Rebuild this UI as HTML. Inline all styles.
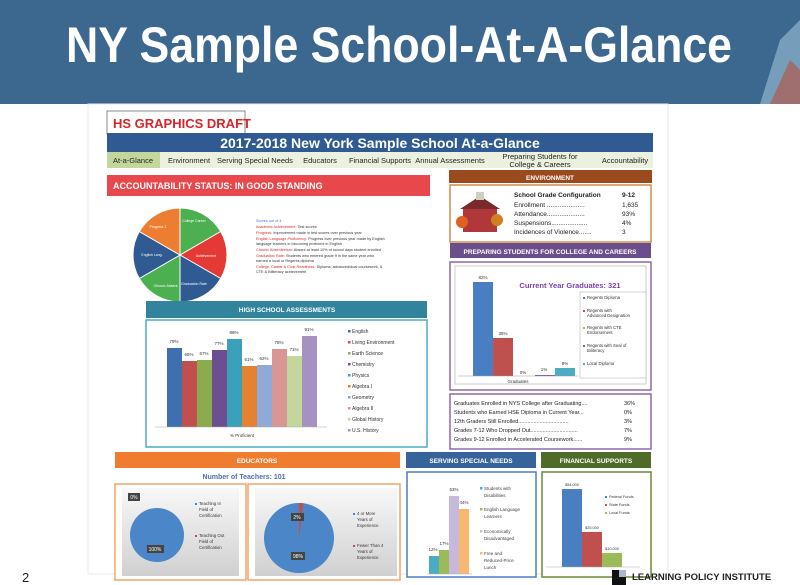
<!DOCTYPE html>
<html><head><meta charset="utf-8"><style>
html,body{margin:0;padding:0;background:#fff;overflow:hidden}
svg{display:block;font-family:"Liberation Sans",sans-serif}
</style></head><body>
<svg width="800" height="585" viewBox="0 0 800 585" xmlns="http://www.w3.org/2000/svg">
<rect x="0" y="0" width="800" height="104" fill="#3c6890"/>
<polygon points="780,40 800,20 800,104 760,104" fill="#8fb3cc" opacity="0.7"/>
<polygon points="770,104 790,60 800,70 800,104" fill="#b05a50" opacity="0.7"/>
<text x="66" y="62" font-size="50" font-weight="bold" fill="#fff" textLength="666" lengthAdjust="spacingAndGlyphs">NY Sample School-At-A-Glance</text>
<rect x="0" y="104" width="800" height="481" fill="#fff"/>
<rect x="88" y="104" width="580" height="470" fill="#fff" stroke="#e8e8e8"/>

<rect x="107" y="111" width="138" height="23" fill="#fff" stroke="#888"/>
<text x="113" y="128" font-size="13" font-weight="bold" fill="#d9252a">HS GRAPHICS DRAFT</text>
<rect x="107" y="133" width="546" height="19" fill="#2f5b92"/>
<text x="380" y="148" font-size="14" font-weight="bold" fill="#fff" text-anchor="middle">2017-2018 New York Sample School At-a-Glance</text>
<rect x="107" y="152" width="546" height="16" fill="#ebf1de"/>
<rect x="107" y="152" width="53" height="16" fill="#c4d79b"/>
<g font-size="7.5" fill="#222" text-anchor="middle">
<text x="133" y="163">At-a-Glance</text><text x="189" y="163">Environment</text><text x="255" y="163">Serving Special Needs</text>
<text x="320" y="163">Educators</text><text x="380" y="163">Financial Supports</text><text x="450" y="163">Annual Assessments</text>
<text x="540" y="159">Preparing Students for</text><text x="540" y="167">College &amp; Careers</text><text x="625" y="163">Accountability</text></g>

<rect x="107" y="175" width="323" height="21" fill="#e8474c"/>
<text x="113" y="189" font-size="9" font-weight="bold" fill="#fff">ACCOUNTABILITY STATUS: IN GOOD STANDING</text>
<g stroke="#fff" stroke-width="1">
<path d="M180,255 L180,208 A47,47 0 0 1 220.7,231.5 Z" fill="#4caf50"/>
<path d="M180,255 L220.7,231.5 A47,47 0 0 1 220.7,278.5 Z" fill="#e53935"/>
<path d="M180,255 L220.7,278.5 A47,47 0 0 1 180,302 Z" fill="#2f5b92"/>
<path d="M180,255 L180,302 A47,47 0 0 1 139.3,278.5 Z" fill="#4caf50"/>
<path d="M180,255 L139.3,278.5 A47,47 0 0 1 139.3,231.5 Z" fill="#2f5b92"/>
<path d="M180,255 L139.3,231.5 A47,47 0 0 1 180,208 Z" fill="#ed7d31"/></g>
<g font-size="3.5" fill="#fff" text-anchor="middle"><text x="158" y="228">Progress 2</text><text x="194" y="222">College Career</text><text x="206" y="257">Achievement</text><text x="194" y="285">Graduation Rate</text><text x="166" y="287">Chronic Absent.</text><text x="152" y="256">English Lang.</text></g>
<g font-size="3.8"><text x="256" y="222" fill="#2f7fcf">Scores out of 4</text>
<text x="256" y="228" fill="#d9252a">Academic Achievement: <tspan fill="#333">Test scores</tspan></text>
<text x="256" y="234" fill="#d9252a">Progress: <tspan fill="#333">Improvement made in test scores over previous year</tspan></text>
<text x="256" y="240" fill="#d9252a">English Language Proficiency: <tspan fill="#333">Progress over previous year made by English</tspan></text>
<text x="256" y="245" fill="#333">language learners in becoming proficient in English</text>
<text x="256" y="251" fill="#d9252a">Chronic Absenteeism: <tspan fill="#333">Absent at least 10% of school days student enrolled</tspan></text>
<text x="256" y="257" fill="#d9252a">Graduation Rate: <tspan fill="#333">Students who entered grade 9 in the same year who</tspan></text>
<text x="256" y="262" fill="#333">earned a local or Regents diploma</text>
<text x="256" y="268" fill="#d9252a">College, Career &amp; Civic Readiness: <tspan fill="#333">Diploma, advanced/dual coursework, &amp;</tspan></text>
<text x="256" y="273" fill="#333">CTE &amp; Biliteracy achievement</text></g>

<rect x="449" y="170" width="203" height="13" fill="#9a4a1c"/>
<text x="550" y="180" font-size="6.5" font-weight="bold" fill="#fff" text-anchor="middle">ENVIRONMENT</text>
<rect x="450" y="185" width="201" height="57" fill="#fff" stroke="#d08b4a" stroke-width="1.5"/>
<rect x="463" y="208" width="34" height="24" fill="#b0373a"/><polygon points="460,209 480,196 500,209" fill="#7a2a2a"/>
<rect x="476" y="192" width="8" height="8" fill="#d0d0c0"/><circle cx="462" cy="222" r="6" fill="#e06020"/><circle cx="497" cy="220" r="6" fill="#d08020"/>
<g font-size="6.5" fill="#222"><text x="514" y="197" font-weight="bold">School Grade Configuration</text><text x="622" y="197" font-weight="bold">9-12</text>
<text x="514" y="207">Enrollment .....................</text><text x="622" y="207">1,635</text>
<text x="514" y="216">Attendance.....................</text><text x="622" y="216">93%</text>
<text x="514" y="225">Suspensions....................</text><text x="622" y="225">4%</text>
<text x="514" y="234">Incidences of Violence.......</text><text x="622" y="234">3</text></g>

<rect x="450" y="243" width="201" height="15" fill="#6b4e8c"/>
<text x="550" y="254" font-size="6.5" font-weight="bold" fill="#fff" text-anchor="middle">PREPARING STUDENTS FOR COLLEGE AND CAREERS</text>
<rect x="450" y="262" width="201" height="128" fill="#fff" stroke="#8a6aaa" stroke-width="1.5"/>
<rect x="455" y="266" width="191" height="118" fill="#fff" stroke="#ccc"/>
<rect x="580" y="292" width="66" height="86" fill="#fff" stroke="#aaa" stroke-width="0.5"/>
<text x="570" y="288" font-size="7.5" font-weight="bold" fill="#7a3fa8" text-anchor="middle">Current Year Graduates: 321</text>
<rect x="473" y="282" width="20" height="94" fill="#4a7ec2"/><rect x="493" y="338" width="20" height="38" fill="#c0504d"/>
<rect x="535" y="375" width="20" height="1" fill="#7a5aa0"/><rect x="555" y="368" width="20" height="8" fill="#4bacc6"/>
<line x1="458" y1="376" x2="578" y2="376" stroke="#999" stroke-width="0.5"/>
<g font-size="4.5" fill="#333" text-anchor="middle"><text x="483" y="279">82%</text><text x="503" y="335">35%</text><text x="523" y="374">0%</text><text x="544" y="371">1%</text><text x="565" y="365">8%</text><text x="518" y="383">Graduates</text></g>
<g font-size="4.3" fill="#333"><rect x="583" y="297" width="2" height="2" fill="#4a7ec2"/><text x="587" y="299">Regents Diploma</text>
<rect x="583" y="310" width="2" height="2" fill="#c0504d"/><text x="587" y="312">Regents with</text><text x="587" y="317">Advanced Designation</text>
<rect x="583" y="327" width="2" height="2" fill="#9bbb59"/><text x="587" y="329">Regents with CTE</text><text x="587" y="334">Endorsement</text>
<rect x="583" y="345" width="2" height="2" fill="#8064a2"/><text x="587" y="347">Regents with Seal of</text><text x="587" y="352">Biliteracy</text>
<rect x="583" y="363" width="2" height="2" fill="#4bacc6"/><text x="587" y="365">Local Diploma</text></g>
<rect x="450" y="394" width="201" height="55" fill="#fff" stroke="#8a6aaa" stroke-width="1.5"/>
<g font-size="5.5" fill="#222"><text x="454" y="405">Graduates Enrolled in NYS College after Graduating....</text><text x="624" y="405">36%</text>
<text x="454" y="414">Students who Earned HSE Diploma in Current Year...</text><text x="624" y="414">0%</text>
<text x="454" y="423">12th Graders Still Enrolled.................................</text><text x="624" y="423">3%</text>
<text x="454" y="432">Grades 7-12 Who Dropped Out...............................</text><text x="624" y="432">7%</text>
<text x="454" y="441">Grades 9-12 Enrolled in Accelerated Coursework......</text><text x="624" y="441">9%</text></g>

<rect x="146" y="301" width="281" height="17" fill="#31849b"/>
<text x="287" y="312" font-size="6.5" font-weight="bold" fill="#fff" text-anchor="middle">HIGH SCHOOL ASSESSMENTS</text>
<rect x="146" y="320" width="281" height="127" fill="#fff" stroke="#4bacc6" stroke-width="1.5"/>
<g>
<rect x="167" y="348" width="15" height="79" fill="#3e6fb0"/><rect x="182" y="361" width="15" height="66" fill="#c0504d"/>
<rect x="197" y="360" width="15" height="67" fill="#8bab4c"/><rect x="212" y="350" width="15" height="77" fill="#6d4e91"/>
<rect x="227" y="339" width="15" height="88" fill="#3ba0b9"/><rect x="242" y="366" width="15" height="61" fill="#e58133"/>
<rect x="257" y="365" width="15" height="62" fill="#8fa9d8"/><rect x="272" y="349" width="15" height="78" fill="#da9694"/>
<rect x="287" y="356" width="15" height="71" fill="#c3d69b"/><rect x="302" y="336" width="15" height="91" fill="#a692c0"/></g>
<line x1="155" y1="427" x2="327" y2="427" stroke="#aaa" stroke-width="0.6"/>
<g font-size="4.5" fill="#333" text-anchor="middle"><text x="174" y="343">79%</text><text x="189" y="356">66%</text><text x="204" y="355">67%</text><text x="219" y="345">77%</text><text x="234" y="334">88%</text><text x="249" y="361">61%</text><text x="264" y="360">62%</text><text x="279" y="344">78%</text><text x="294" y="351">71%</text><text x="309" y="331">91%</text><text x="242" y="437">% Proficient</text></g>
<g font-size="5" fill="#333">
<rect x="348" y="330" width="2.5" height="2.5" fill="#3e6fb0"/><text x="352" y="333">English</text>
<rect x="348" y="341" width="2.5" height="2.5" fill="#c0504d"/><text x="352" y="344">Living Environment</text>
<rect x="348" y="352" width="2.5" height="2.5" fill="#8bab4c"/><text x="352" y="355">Earth Science</text>
<rect x="348" y="363" width="2.5" height="2.5" fill="#6d4e91"/><text x="352" y="366">Chemistry</text>
<rect x="348" y="374" width="2.5" height="2.5" fill="#3ba0b9"/><text x="352" y="377">Physics</text>
<rect x="348" y="385" width="2.5" height="2.5" fill="#e58133"/><text x="352" y="388">Algebra I</text>
<rect x="348" y="396" width="2.5" height="2.5" fill="#8fa9d8"/><text x="352" y="399">Geometry</text>
<rect x="348" y="407" width="2.5" height="2.5" fill="#da9694"/><text x="352" y="410">Algebra II</text>
<rect x="348" y="418" width="2.5" height="2.5" fill="#c3d69b"/><text x="352" y="421">Global History</text>
<rect x="348" y="429" width="2.5" height="2.5" fill="#a692c0"/><text x="352" y="432">U.S. History</text></g>

<rect x="115" y="452" width="285" height="16" fill="#f07c30"/>
<text x="257" y="463" font-size="6.5" font-weight="bold" fill="#fff" text-anchor="middle">EDUCATORS</text>
<text x="244" y="479" font-size="7" font-weight="bold" fill="#4a6eb0" text-anchor="middle">Number of Teachers: 101</text>
<defs><linearGradient id="g" x1="0" y1="0" x2="0" y2="1"><stop offset="0" stop-color="#f8f8f8"/><stop offset="1" stop-color="#d0d0d0"/></linearGradient></defs>
<rect x="115" y="484" width="131" height="96" fill="#fff" stroke="#f3a56a" stroke-width="1.5"/>
<rect x="122" y="488" width="117" height="88" fill="url(#g)"/>
<circle cx="157" cy="535" r="27" fill="#4a86c8"/>
<rect x="128" y="493" width="12" height="8" fill="#444"/><text x="134" y="499" font-size="5" fill="#fff" text-anchor="middle">0%</text>
<rect x="147" y="545" width="17" height="8" fill="#444"/><text x="155" y="551" font-size="5" fill="#fff" text-anchor="middle">100%</text>
<g font-size="4.3" fill="#333"><rect x="195" y="503" width="2" height="2" fill="#4a86c8"/><text x="199" y="505">Teaching In</text><text x="199" y="511">Field of</text><text x="199" y="517">Certification</text>
<rect x="195" y="535" width="2" height="2" fill="#c0504d"/><text x="199" y="537">Teaching Out</text><text x="199" y="543">Field of</text><text x="199" y="549">Certification</text></g>
<rect x="248" y="484" width="152" height="96" fill="#fff" stroke="#f3a56a" stroke-width="1.5"/>
<rect x="255" y="488" width="142" height="88" fill="url(#g)"/>
<circle cx="299" cy="538" r="35" fill="#4a86c8"/>
<path d="M299,538 L299,503 A35,35 0 0 1 303.4,503.3 Z" fill="#c0504d"/>
<rect x="291" y="513" width="13" height="8" fill="#444"/><text x="297" y="519" font-size="5" fill="#fff" text-anchor="middle">2%</text>
<rect x="291" y="552" width="14" height="8" fill="#444"/><text x="298" y="558" font-size="5" fill="#fff" text-anchor="middle">98%</text>
<g font-size="4.3" fill="#333"><rect x="353" y="513" width="2" height="2" fill="#4a86c8"/><text x="357" y="515">4 or More</text><text x="357" y="521">Years of</text><text x="357" y="527">Experience</text>
<rect x="353" y="545" width="2" height="2" fill="#c0504d"/><text x="357" y="547">Fewer Than 4</text><text x="357" y="553">Years of</text><text x="357" y="559">Experience</text></g>

<rect x="406" y="452" width="130" height="16" fill="#36639a"/>
<text x="471" y="463" font-size="6.5" font-weight="bold" fill="#fff" text-anchor="middle">SERVING SPECIAL NEEDS</text>
<rect x="407" y="472" width="129" height="105" fill="#fff" stroke="#4a7ec2" stroke-width="1.5"/>
<rect x="429" y="556" width="10" height="18" fill="#4bacc6"/><rect x="439" y="550" width="10" height="24" fill="#9bbb59"/>
<rect x="449" y="496" width="10" height="78" fill="#c6b9db"/><rect x="459" y="509" width="10" height="65" fill="#f9b870"/>
<line x1="427" y1="574" x2="472" y2="574" stroke="#aaa" stroke-width="0.5"/>
<g font-size="4.5" fill="#333" text-anchor="middle"><text x="433" y="551">12%</text><text x="444" y="545">17%</text><text x="454" y="491">53%</text><text x="464" y="504">44%</text></g>
<g font-size="4.5" fill="#444"><rect x="480" y="487" width="2.5" height="2.5" fill="#4bacc6"/><text x="484" y="490">Students with</text><text x="484" y="497">Disabilities</text>
<rect x="480" y="508" width="2.5" height="2.5" fill="#9bbb59"/><text x="484" y="511">English Language</text><text x="484" y="518">Learners</text>
<rect x="480" y="530" width="2.5" height="2.5" fill="#c6b9db"/><text x="484" y="533">Economically</text><text x="484" y="540">Disadvantaged</text>
<rect x="480" y="552" width="2.5" height="2.5" fill="#f9b870"/><text x="484" y="555">Free and</text><text x="484" y="562">Reduced-Price</text><text x="484" y="569">Lunch</text></g>

<rect x="541" y="452" width="110" height="16" fill="#4f6b28"/>
<text x="596" y="463" font-size="6.5" font-weight="bold" fill="#fff" text-anchor="middle">FINANCIAL SUPPORTS</text>
<rect x="542" y="472" width="109" height="105" fill="#fff" stroke="#6b8a38" stroke-width="1.5"/>
<rect x="562" y="489" width="20" height="78" fill="#4a7ec2"/><rect x="582" y="532" width="20" height="35" fill="#c0504d"/><rect x="602" y="553" width="20" height="14" fill="#9bbb59"/>
<line x1="546" y1="567" x2="640" y2="567" stroke="#aaa" stroke-width="0.5"/>
<g font-size="3.8" fill="#333" text-anchor="middle"><text x="572" y="486">$54,000</text><text x="592" y="529">$25,000</text><text x="612" y="550">$10,000</text></g>
<g font-size="3.8" fill="#333"><rect x="605" y="496" width="2" height="2" fill="#4a7ec2"/><text x="609" y="498">Federal Funds</text>
<rect x="605" y="504" width="2" height="2" fill="#c0504d"/><text x="609" y="506">State Funds</text>
<rect x="605" y="512" width="2" height="2" fill="#9bbb59"/><text x="609" y="514">Local Funds</text></g>

<text x="22" y="582" font-size="13" fill="#222">2</text>
<rect x="612" y="570" width="14" height="15" fill="#111"/><rect x="619" y="570" width="7" height="7" fill="#aab8c8"/>
<text x="632" y="580" font-size="9.5" font-weight="bold" fill="#222">LEARNING POLICY INSTITUTE</text>
</svg>
</body></html>
